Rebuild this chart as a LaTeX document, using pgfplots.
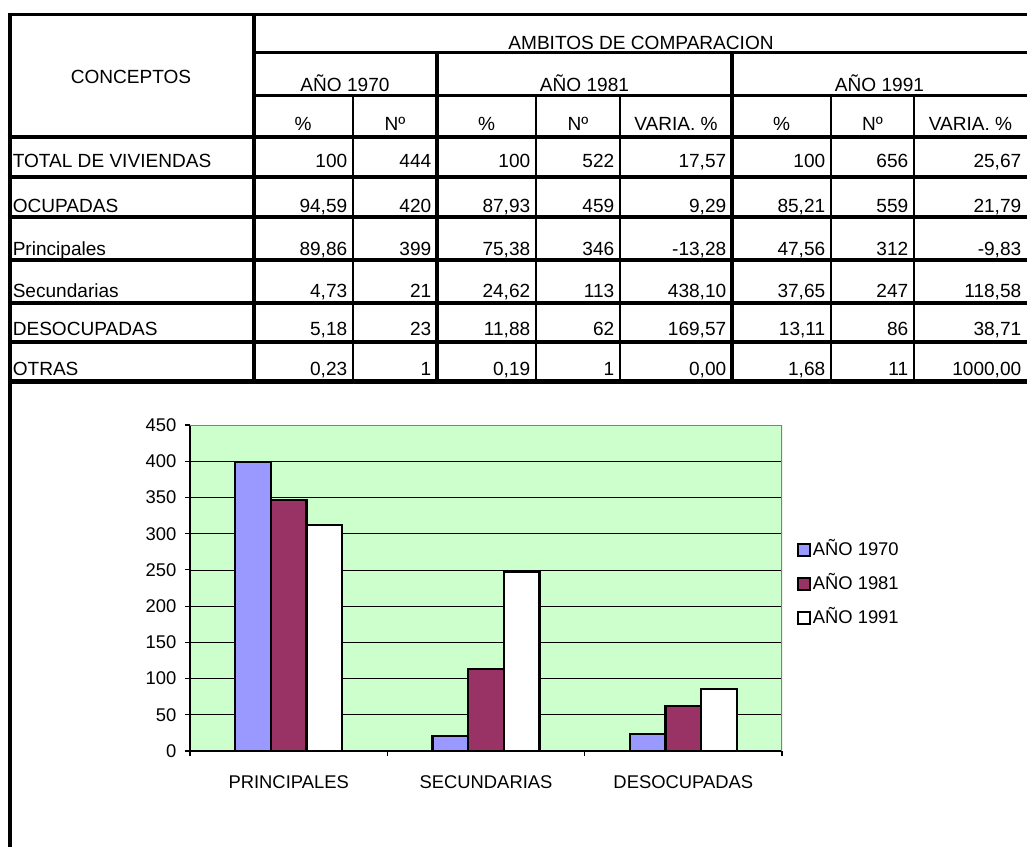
\documentclass[border=0pt]{standalone}
\usepackage{fontspec}
\setmainfont{Liberation Sans}
\usepackage{pgfplots}
\pgfplotsset{compat=1.18}
\definecolor{cA}{HTML}{9999FF}
\definecolor{cB}{HTML}{993366}
\definecolor{bgc}{HTML}{CCFFCC}
\newcommand\tf{\fontsize{14.3}{17}\selectfont}
\newcommand\cf{\fontsize{13.8}{16}\selectfont}
\newcommand\drow[9]{%
  \node[anchor=base east] at (347.5,#1) {#2};
  \node[anchor=base east] at (431.5,#1) {#3};
  \node[anchor=base east] at (530.5,#1) {#4};
  \node[anchor=base east] at (614.5,#1) {#5};
  \node[anchor=base east] at (726.5,#1) {#6};
  \node[anchor=base east] at (825.5,#1) {#7};
  \node[anchor=base east] at (908.5,#1) {#8};
  \node[anchor=base east] at (1021.5,#1) {#9};
}
\begin{document}
\begin{tikzpicture}
\path[use as bounding box] (0,0) rectangle (770.25pt,-635.25pt);
\begin{scope}[x=0.75pt,y=-0.75pt, every node/.style={inner sep=0pt,font=\tf}]
  % vertical lines
  \draw[line width=3pt] (9.5,12.5) -- (9.5,847);
  \draw[line width=2.5pt] (254,14) -- (254,382);
  \draw[line width=2.3pt] (437,52) -- (437,382) (732,52) -- (732,382);
  \foreach \xx in {353,536,620,831,914} \draw[line width=2.1pt] (\xx,95) -- (\xx,382);
  % horizontal lines
  \draw[line width=2.5pt] (7.5,14.5) -- (1027,14.5);
  \draw[line width=1.6pt] (254,52.5) -- (1027,52.5);
  \draw[line width=2pt] (254,95.5) -- (1027,95.5);
  \draw[line width=2.5pt] (7.5,137) -- (1027,137);
  \foreach \yy in {177,217,260,303,342} \draw[line width=2.3pt] (7.5,\yy) -- (1027,\yy);
  \draw[line width=3.3pt] (7.5,381.5) -- (1027,381.5);
  % headers
  \node[anchor=base] at (131,83.8) {CONCEPTOS};
  \node[anchor=base] at (641,49.5) {AMBITOS DE COMPARACION};
  \node[anchor=base] at (345,91) {AÑO 1970};
  \node[anchor=base] at (584.5,91) {AÑO 1981};
  \node[anchor=base] at (879.5,91) {AÑO 1991};
  \foreach \xx/\tt in {303/\%,395/Nº,486.5/\%,578/Nº,676/VARIA. \%,781.5/\%,872.5/Nº,970.5/VARIA. \%}
    \node[anchor=base] at (\xx,130) {\tt};
  % row labels
  \foreach \yy/\tt in {167/TOTAL DE VIVIENDAS,212/OCUPADAS,255/Principales,297/Secundarias,335.5/DESOCUPADAS,375/OTRAS}
    \node[anchor=base west] at (12.5,\yy) {\tt};
  \drow{167}{100}{444}{100}{522}{17,57}{100}{656}{25,67}
  \drow{212}{94,59}{420}{87,93}{459}{9,29}{85,21}{559}{21,79}
  \drow{255}{89,86}{399}{75,38}{346}{-13,28}{47,56}{312}{-9,83}
  \drow{297}{4,73}{21}{24,62}{113}{438,10}{37,65}{247}{118,58}
  \drow{335.5}{5,18}{23}{11,88}{62}{169,57}{13,11}{86}{38,71}
  \drow{375}{0,23}{1}{0,19}{1}{0,00}{1,68}{11}{1000,00}
\end{scope}
\begin{axis}[
  at={(142.5pt,-563.25pt)}, anchor=south west,
  width=444pt, height=244.5pt, scale only axis,
  xmin=0, xmax=3, ymin=0, ymax=450,
  axis x line*=bottom, axis y line*=left,
  axis line style={black, line width=1pt},
  axis background/.style={fill=bgc},
  ybar, bar width=26.7pt,
  ytick={0,50,...,450},
  ymajorgrids, grid style={black, line width=0.6pt},
  xtick={0,1,2,3}, xticklabels={},
  extra x ticks={0.5,1.5,2.5},
  extra x tick labels={PRINCIPALES,SECUNDARIAS,DESOCUPADAS},
  extra x tick style={major tick length=0pt, grid=none},
  xticklabel style={yshift=-15pt},
  yticklabel style={xshift=-3pt},
  tick align=outside, major tick length=3.75pt,
  tick style={black, line width=0.8pt},
  tick label style={font=\cf},
  /pgf/number format/assume math mode=true,
  legend style={at={(1.025,0.512)}, anchor=west, draw=none, fill=none, font=\cf,
    inner sep=0pt, row sep=11.5pt, nodes={inner sep=1pt, text height=10pt, text depth=2pt}},
  legend cell align=left,
  legend image code/.code={\draw[#1, draw=black, line width=1.6pt] (0pt,-4.6pt) rectangle (9.2pt,4.6pt);},
]
\addplot[fill=cA, draw=black, line width=1.7pt, bar shift=-26.7pt] coordinates {(0.5,399) (1.5,21) (2.5,23)};
\addplot[fill=cB, draw=black, line width=1.7pt, bar shift=0pt] coordinates {(0.5,346) (1.5,113) (2.5,62)};
\addplot[fill=white, draw=black, line width=1.7pt, bar shift=26.7pt] coordinates {(0.5,312) (1.5,247) (2.5,86)};
\legend{AÑO 1970, AÑO 1981, AÑO 1991}
\draw[gray, line width=1.3pt] (rel axis cs:0,1) -- (rel axis cs:1,1) -- (rel axis cs:1,0);
\end{axis}
\end{tikzpicture}
\end{document}
